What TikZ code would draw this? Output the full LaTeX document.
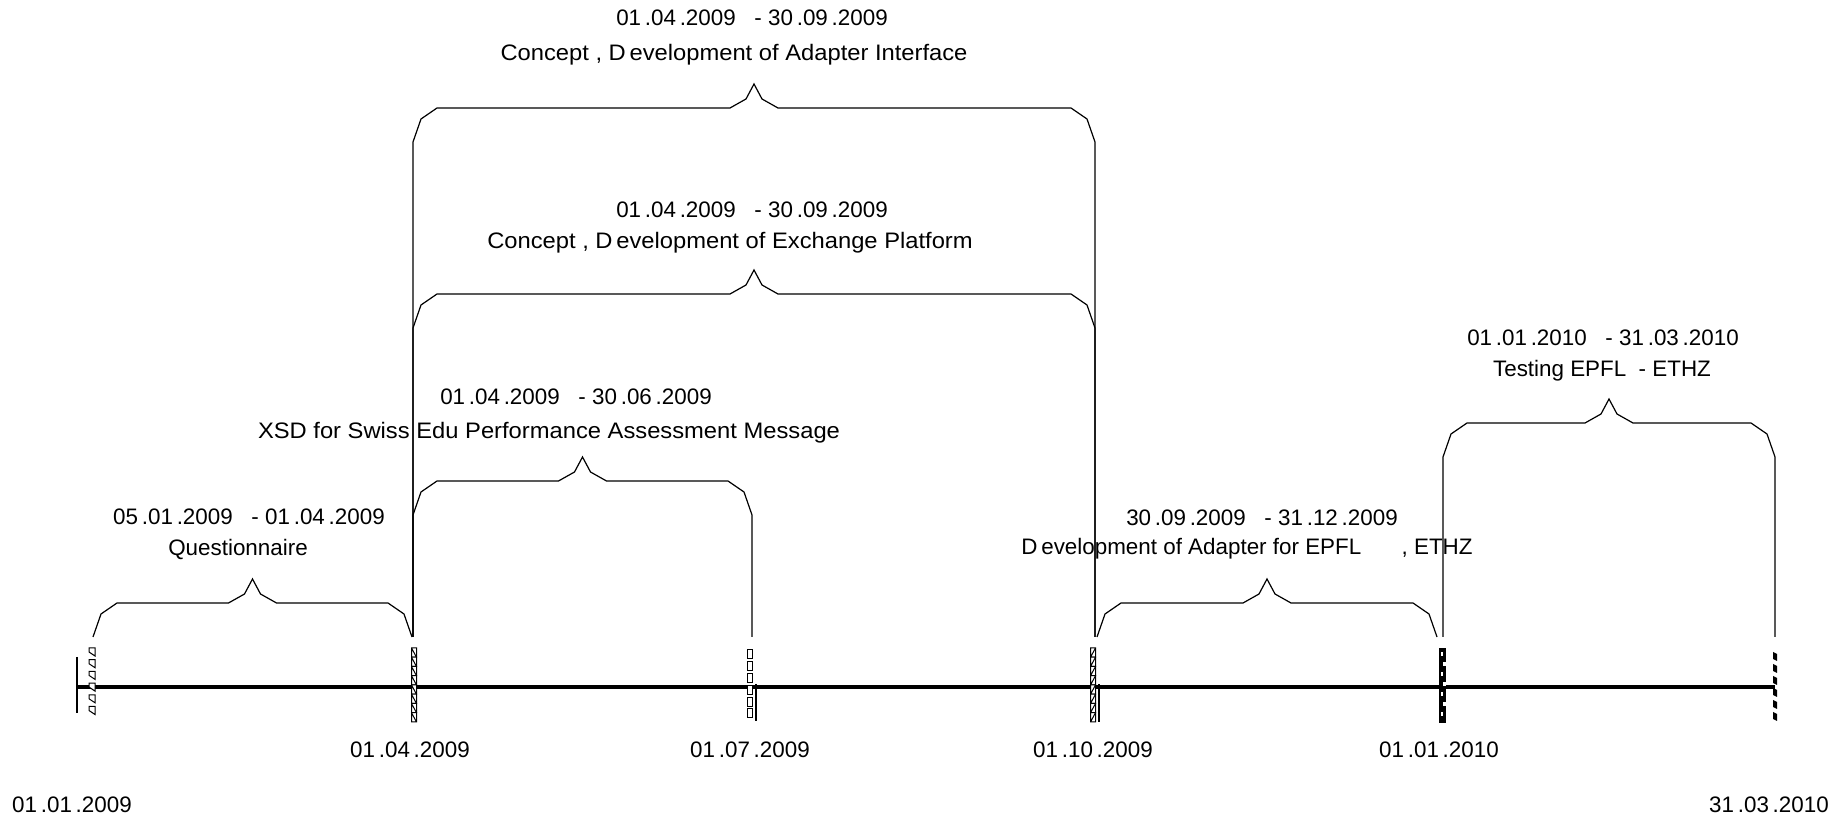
\documentclass[tikz,border=0pt]{standalone}
\usepackage{fontspec}
\setmainfont{Liberation Sans}
\newfontfamily\widefont[FakeStretch=1.06]{Liberation Sans}
\usetikzlibrary{positioning}
\tikzset{
  brace/.style={black, line width=0.6pt},
  axis/.style={black, line width=2pt},
  lbl/.style={font=\fontsize{11.2}{13}\selectfont, inner sep=0pt},
  widelbl/.style={font=\widefont\fontsize{11.2}{13}\selectfont, inner sep=0pt},
  cell/.style={draw=black, line width=0.5pt, fill=white},
}
% brace over a span: left x, right x, foot y, top of legs y
\newcommand{\tlbrace}[4]{%
  \pgfmathsetmacro{\bracemid}{(#1+#2)/2}
  \draw[brace] (#1,#3) -- (#1,#4) -- ++(8,-23) -- ++(16,-11)
    -- (\bracemid-24,#4-34) -- (\bracemid-8,#4-43) -- (\bracemid,#4-58)
    -- (\bracemid+8,#4-43) -- (\bracemid+24,#4-34) -- (#2-24,#4-34)
    -- (#2-8,#4-23) -- (#2,#4) -- (#2,#3);}

\begin{document}
\begin{tikzpicture}[x=0.5pt, y=-0.5pt]
    \useasboundingbox (0,0) rectangle (1848,817);

    % time axis
    \coordinate (start) at (77,687);
    \coordinate (stop) at (1775,687);
    \draw[axis] (start) -- (stop);
    \draw[line width=0.6pt] (77,657) -- (77,713);

    % tick markers
    \foreach \k in {0,...,5}
        \draw[cell] (89,648+\k*11.7) -- ++(6,0) -- ++(0,8) -- ++(-6,-4) -- cycle;
    \foreach \k in {0,...,7}
        \draw[cell] (411.5,648+\k*9.25) rectangle ++(5,9.25) (411.5,648+\k*9.25) -- ++(5,9.25);
    \foreach \k in {0,...,5}
        \draw[cell] (747.5,650+\k*11.8) rectangle ++(5,9);
    \draw[line width=0.8pt] (756,684) -- (756,721);
    \foreach \k in {0,...,7}
        \draw[cell] (1090.5,648+\k*9.25) rectangle ++(5,9.25) (1090.5,648+\k*9.25+9.25) -- ++(5,-9.25);
    \draw[line width=0.8pt] (1099,684) -- (1099,722);
    \fill[black] (1439,648) rectangle (1446,723);
    \foreach \k in {0,...,6}
        \fill[white] ({1440.5+mod(\k,2)*2.5},{652+\k*10}) rectangle ++(2.5,4);
    \foreach \k in {0,...,5}
        \fill[black] (1773,652+\k*12) -- ++(4,2) -- ++(0,7) -- ++(-4,-2) -- cycle;

    % braces
    \tlbrace{93}{412}{637}{637}
    \tlbrace{413}{752}{637}{515}
    \tlbrace{413}{1095}{637}{328}
    \tlbrace{413}{1095}{637}{142}
    \tlbrace{1097}{1437}{637}{637}
    \tlbrace{1443}{1775}{637}{457}

    % task labels
    \node[lbl] (adapt-date) at (752,18) {01\,.04\,.2009\ \ \ - 30\,.09\,.2009};
    \node[widelbl] (adapt-task) at (734,55) {Concept\ , D\,evelopment of Adapter Interface};
    \node[lbl] (xchg-date) at (752,210) {01\,.04\,.2009\ \ \ - 30\,.09\,.2009};
    \node[widelbl] (xchg-task) at (730,243) {Concept\ , D\,evelopment of Exchange Platform};
    \node[lbl] (xsd-date) at (576,397) {01\,.04\,.2009\ \ \ - 30\,.06\,.2009};
    \node[widelbl] (xsd-task) at (549,433) {XSD for Swiss Edu Performance Assessment Message};
    \node[lbl] (quest-date) at (249,517) {05\,.01\,.2009\ \ \ - 01\,.04\,.2009};
    \node[lbl] (quest-task) at (238,550) {Questionnaire};
    \node[lbl] (dev-date) at (1262,518) {30\,.09\,.2009\ \ \ - 31\,.12\,.2009};
    \node[lbl] (dev-task) at (1247,549) {D\,evelopment of Adapter for EPFL\hspace{1.8em}, ETHZ};
    \node[lbl] (test-date) at (1603,338) {01\,.01\,.2010\ \ \ - 31\,.03\,.2010};
    \node[lbl] (test-task) at (1602,371) {Testing EPFL\ \ - ETHZ};

    % axis labels
    \node[lbl] (apr) at (410,750) {01\,.04\,.2009};
    \node[lbl] (jul) at (750,750) {01\,.07\,.2009};
    \node[lbl] (oct) at (1093,750) {01\,.10\,.2009};
    \node[lbl] (jan) at (1439,750) {01\,.01\,.2010};
    \node[lbl] (first) at (72,805) {01\,.01\,.2009};
    \node[lbl] (last) at (1769,805) {31\,.03\,.2010};
\end{tikzpicture}
\end{document}
